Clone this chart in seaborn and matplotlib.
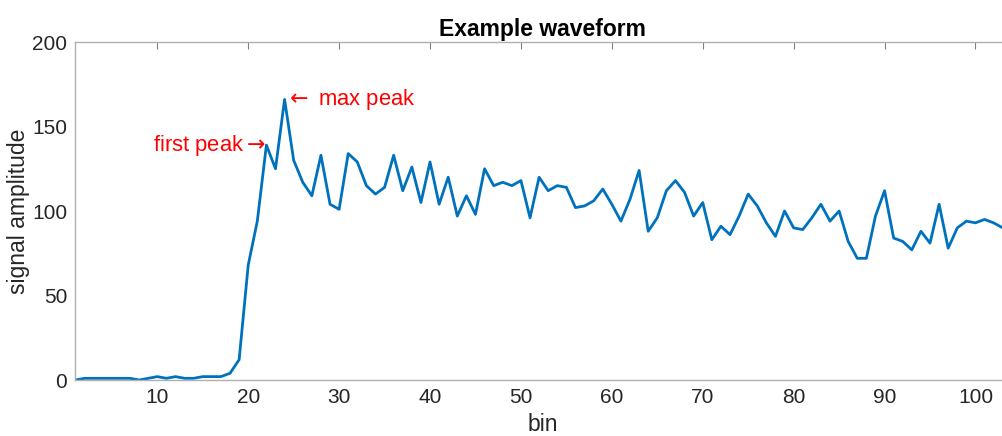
import numpy as np
import pandas as pd
import matplotlib
matplotlib.use("Agg")
import matplotlib.pyplot as plt
import seaborn as sns

# ---- data ----
signal = [0, 1, 1, 1, 1, 1, 1, 0, 1, 2,
          1, 2, 1, 1, 2, 2, 2, 4, 12, 68,
          94, 139, 125, 166, 130, 117, 109, 133, 104, 101,
          134, 129, 115, 110, 114, 133, 112, 126, 105, 129,
          104, 120, 97, 109, 98, 125, 115, 117, 115, 118,
          96, 120, 112, 115, 114, 102, 103, 106, 113, 104,
          94, 107, 124, 88, 96, 112, 118, 111, 97, 105,
          83, 91, 86, 97, 110, 103, 93, 85, 100, 90,
          89, 96, 104, 94, 100, 82, 72, 72, 97, 112,
          84, 82, 77, 88, 81, 104, 78, 90, 94, 93,
          95, 93, 90]
bins = list(range(1, len(signal) + 1))
x_ticks = [10, 20, 30, 40, 50, 60, 70, 80, 90, 100]
y_ticks = [0, 50, 100, 150, 200]
first_peak_bin = 22
max_peak_bin = 24

df = pd.DataFrame({"bin": bins, "signal amplitude": signal})

sns.set_theme(style="white")
plt.rcParams["font.family"] = ["Liberation Sans", "DejaVu Sans"]
plt.rcParams["mathtext.fontset"] = "dejavusans"

fig = plt.figure(figsize=(10.03, 4.36), dpi=100)
W, H = 1003, 436
left, right, top, bottom = 75.5, 1010, 42, 380
ax = fig.add_axes([left / W, 1 - bottom / H, (right - left) / W, (bottom - top) / H])

sns.lineplot(data=df, x="bin", y="signal amplitude", ax=ax,
             color="#0072BD", linewidth=2.0)

ax.set_xlim(1, 103.8)
ax.set_ylim(0, 200)
ax.set_xticks(x_ticks)
ax.set_yticks(y_ticks)
ax.tick_params(axis="both", direction="in", length=5, width=0.8,
               color="#808080", labelsize=15, labelcolor="#262626",
               top=True, right=False, pad=6)
for s in ax.spines.values():
    s.set_color("#b0b0b0")
    s.set_linewidth(1.0)
ax.spines["right"].set_visible(False)

ax.set_xlabel("bin", fontsize=16.5, color="#262626", labelpad=4)
ax.set_ylabel("signal amplitude", fontsize=16.5, color="#262626")
ax.yaxis.set_label_coords(-0.049, 0.5)
ax.set_title("Example waveform", fontsize=16.5, fontweight="bold", color="black", pad=4)

fp = signal[first_peak_bin - 1]
mp = signal[max_peak_bin - 1]
ax.text(first_peak_bin, fp, "first peak$\\rightarrow$", color="red", fontsize=15.8,
        ha="right", va="center")
ax.text(max_peak_bin, mp, "$\\leftarrow$ max peak", color="red", fontsize=15.8,
        ha="left", va="center")

fig.savefig("out.png", dpi=100)
